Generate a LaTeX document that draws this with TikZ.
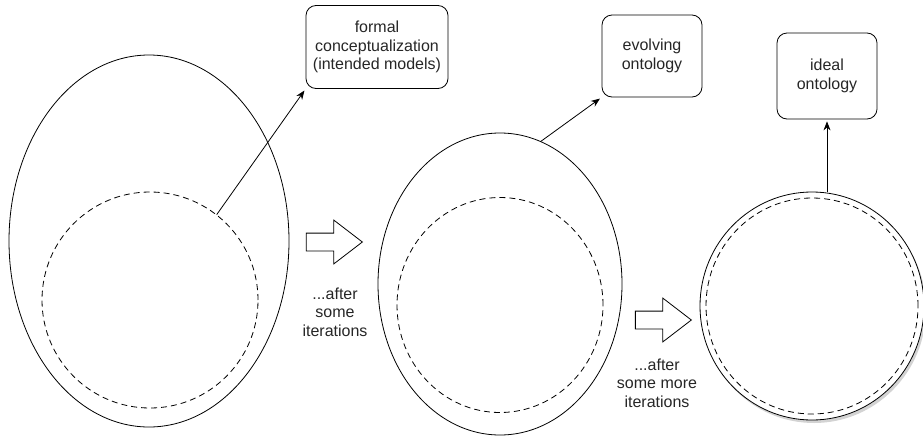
\documentclass[tikz,border=0pt]{standalone}
\usepackage{fontspec}
\setmainfont{Liberation Sans}
\usetikzlibrary{shapes.geometric,shapes.arrows,arrows.meta,shadows}

\begin{document}
\begin{tikzpicture}
  [x=1pt, y=-1pt,
    line width=0.8pt,
    every node/.style={text=black!85, font=\fontsize{16}{18.5}\selectfont, align=center},
    box/.style={draw, rounded corners=10pt, inner sep=0pt},
    region/.style={draw, ellipse, fill=white, inner sep=0pt},
    guess/.style={draw, ellipse, dash pattern=on 6pt off 4pt, inner sep=0pt},
    blockarrow/.style={draw, single arrow, single arrow tip angle=75,
      single arrow head extend=13pt, minimum height=56pt,
      inner xsep=0pt, inner ysep=8.5pt, anchor=tip},
    link/.style={-{Stealth[length=9pt,width=7pt]}, shorten >=2pt},
]
  \useasboundingbox (0,0) rectangle (923,439);

  % first stage
  \node[region, minimum width=280pt, minimum height=372pt] (outer1) at (149,241) {};
  \node[guess, minimum width=216pt, minimum height=216pt] (inner1) at (150,300) {};
  \node[box, minimum width=142pt, minimum height=83pt] (formal) at (377,47)
    {formal\\conceptualization\\(intended models)};
  \draw[link] (inner1.52) -- (formal.south west);

  \node[blockarrow] (step1) at (363,242) {};
  \node (after1) at (335,312) {...after\\some\\iterations};

  % second stage
  \node[region, minimum width=244pt, minimum height=302pt] (outer2) at (500,284) {};
  \node[guess, minimum width=206pt, minimum height=215pt] (inner2) at (500,305) {};
  \node[box, minimum width=100pt, minimum height=82pt] (evolving) at (652,56)
    {evolving\\ontology};
  \draw[link] (outer2.74) -- (evolving.south west);

  \node[blockarrow] (step2) at (692,320) {};
  \node (after2) at (657,383) {...after\\some more\\iterations};

  % ideal stage
  \node[region, minimum width=224pt, minimum height=228pt,
    drop shadow={opacity=0.35, shadow xshift=2pt, shadow yshift=-3pt}] (outer3) at (812,306) {};
  \node[guess, minimum width=212pt, minimum height=216pt] (inner3) at (812,306) {};
  \node[box, minimum width=100pt, minimum height=86pt] (ideal) at (827,76)
    {ideal\\ontology};
  \draw[link] (outer3.north -| ideal.south) -- (ideal.south);
\end{tikzpicture}
\end{document}
